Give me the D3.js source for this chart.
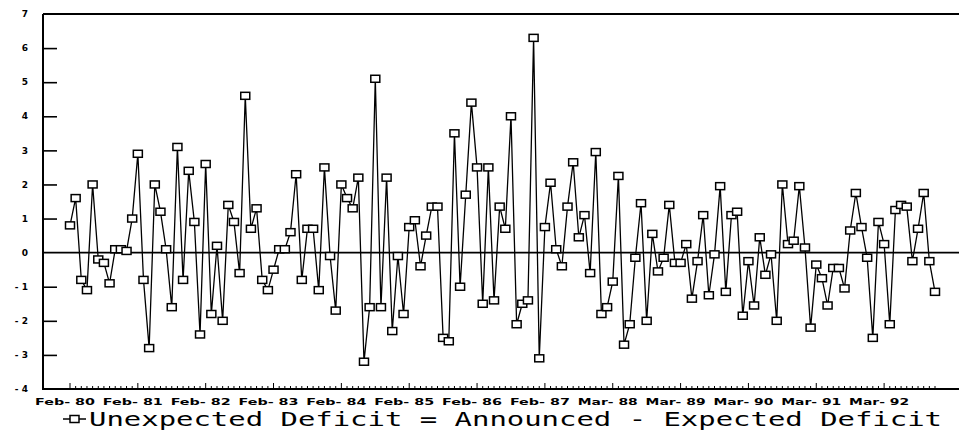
<!DOCTYPE html>
<html>
<head>
<meta charset="utf-8">
<script src="https://cdn.jsdelivr.net/npm/d3@7"></script>
<style>
  body { margin: 0; background: #fff; }
  svg { display: block; }
  text { font-family: "DejaVu Sans", sans-serif; fill: #000; }
</style>
</head>
<body>
<svg id="chart" width="959" height="435"></svg>
<script>
// monthly values, Feb-80 onwards
var values = [
  0.8, 1.6, -0.8, -1.1, 2.0, -0.2, -0.3, -0.9, 0.1, 0.1,
  0.05, 1.0, 2.9, -0.8, -2.8, 2.0, 1.2, 0.1, -1.6, 3.1,
  -0.8, 2.4, 0.9, -2.4, 2.6, -1.8, 0.2, -2.0, 1.4, 0.9,
  -0.6, 4.6, 0.7, 1.3, -0.8, -1.1, -0.5, 0.1, 0.1, 0.6,
  2.3, -0.8, 0.7, 0.7, -1.1, 2.5, -0.1, -1.7, 2.0, 1.6,
  1.3, 2.2, -3.2, -1.6, 5.1, -1.6, 2.2, -2.3, -0.1, -1.8,
  0.75, 0.95, -0.4, 0.5, 1.35, 1.35, -2.5, -2.6, 3.5, -1.0,
  1.7, 4.4, 2.5, -1.5, 2.5, -1.4, 1.35, 0.7, 4.0, -2.1,
  -1.5, -1.4, 6.3, -3.1, 0.75, 2.05, 0.1, -0.4, 1.35, 2.65,
  0.45, 1.1, -0.6, 2.95, -1.8, -1.6, -0.85, 2.25, -2.7, -2.1,
  -0.15, 1.45, -2.0, 0.55, -0.55, -0.15, 1.4, -0.3, -0.3, 0.25,
  -1.35, -0.25, 1.1, -1.25, -0.05, 1.95, -1.15, 1.1, 1.2, -1.85,
  -0.25, -1.55, 0.45, -0.65, -0.05, -2.0, 2.0, 0.25, 0.35, 1.95,
  0.15, -2.2, -0.35, -0.75, -1.55, -0.45, -0.45, -1.05, 0.65, 1.75,
  0.75, -0.15, -2.5, 0.9, 0.25, -2.1, 1.25, 1.4, 1.35, -0.25,
  0.7, 1.75, -0.25, -1.15
];

// one label every 12 observations
var xLabels = ["Feb- 80", "Feb- 81", "Feb- 82", "Feb- 83", "Feb- 84", "Feb- 85", "Feb- 86",
               "Feb- 87", "Mar- 88", "Mar- 89", "Mar- 90", "Mar- 91", "Mar- 92"];
var yTicks = [-4, -3, -2, -1, 0, 1, 2, 3, 4, 5, 6, 7];

var legendText = "Unexpected Deficit = Announced - Expected Deficit";

var svg = d3.select("#chart");

var plotLeft = 43, plotTop = 14, plotBottom = 389, plotRight = 962;

var x = d3.scaleLinear()
  .domain([0, values.length - 1])
  .range([70, 935]);

var y = d3.scaleLinear()
  .domain([-4, 7])
  .range([plotBottom, plotTop]);

// frame: left axis, top line, bottom axis
svg.append("line")
  .attr("x1", plotLeft).attr("x2", plotLeft)
  .attr("y1", plotTop).attr("y2", plotBottom)
  .attr("stroke", "#000").attr("stroke-width", 2);

svg.append("line")
  .attr("x1", plotLeft).attr("x2", plotRight)
  .attr("y1", plotTop).attr("y2", plotTop)
  .attr("stroke", "#000").attr("stroke-width", 2);

svg.append("line")
  .attr("x1", plotLeft - 1).attr("x2", plotRight)
  .attr("y1", plotBottom).attr("y2", plotBottom)
  .attr("stroke", "#000").attr("stroke-width", 2);

// zero line across the plot
svg.append("line")
  .attr("x1", plotLeft).attr("x2", plotRight)
  .attr("y1", y(0)).attr("y2", y(0))
  .attr("stroke", "#000").attr("stroke-width", 1.6);

// y axis ticks and labels
var yAxis = d3.axisRight(y)
  .tickValues(yTicks.filter(function(d) { return d > -4 && d < 7 && d !== 0; }))
  .tickSize(14)
  .tickFormat("");

svg.append("g")
  .attr("transform", "translate(" + plotLeft + ",0)")
  .call(yAxis)
  .call(function(g) {
    g.select(".domain").remove();
    g.selectAll(".tick line").attr("stroke", "#000").attr("stroke-width", 1.6);
  });

svg.append("g")
  .selectAll("text")
  .data(yTicks)
  .enter().append("text")
  .attr("x", 28)
  .attr("y", function(d) { return y(d); })
  .attr("dy", "0.35em")
  .attr("text-anchor", "end")
  .style("font-size", "9px")
  .style("font-weight", "bold")
  .text(function(d) { return d < 0 ? "- " + Math.abs(d) : d; });

// x ticks: minor every month, major every 12
var idx = d3.range(values.length);
svg.append("g")
  .selectAll("line")
  .data(idx)
  .enter().append("line")
  .attr("x1", function(d) { return x(d); })
  .attr("x2", function(d) { return x(d); })
  .attr("y1", plotBottom)
  .attr("y2", function(d) { return d % 12 === 0 ? plotBottom - 6 : plotBottom - 3; })
  .attr("stroke", "#000")
  .attr("stroke-width", 1);

svg.append("g")
  .selectAll("text")
  .data(xLabels)
  .enter().append("text")
  .attr("x", function(d, i) { return x(i * 12) - 5; })
  .attr("y", 402)
  .attr("dy", "0.35em")
  .attr("text-anchor", "middle")
  .attr("textLength", 60)
  .attr("lengthAdjust", "spacingAndGlyphs")
  .style("font-size", "9px")
  .style("font-weight", "bold")
  .text(function(d) { return d; });

// series line
var line = d3.line()
  .x(function(d, i) { return x(i); })
  .y(function(d) { return y(d); });

svg.append("path")
  .datum(values)
  .attr("d", line)
  .attr("fill", "none")
  .attr("stroke", "#000")
  .attr("stroke-width", 1.3);

// square markers
svg.append("g")
  .selectAll("rect")
  .data(values)
  .enter().append("rect")
  .attr("x", function(d, i) { return x(i) - 4.5; })
  .attr("y", function(d) { return y(d) - 3.5; })
  .attr("width", 9)
  .attr("height", 7)
  .attr("fill", "#fff")
  .attr("stroke", "#000")
  .attr("stroke-width", 1.5);

// legend
var lg = svg.append("g").attr("transform", "translate(0,419)");
lg.append("line")
  .attr("x1", 63).attr("x2", 86)
  .attr("y1", 0).attr("y2", 0)
  .attr("stroke", "#000").attr("stroke-width", 1.5);
lg.append("rect")
  .attr("x", 70).attr("y", -3.5)
  .attr("width", 9).attr("height", 7)
  .attr("fill", "#fff").attr("stroke", "#000").attr("stroke-width", 1.5);
lg.append("text")
  .attr("x", 89)
  .attr("y", 0)
  .attr("dy", "0.35em")
  .attr("textLength", 853)
  .attr("lengthAdjust", "spacingAndGlyphs")
  .style("font-family", "'DejaVu Sans Mono', monospace")
  .style("font-size", "19px")
  .text(legendText);
</script>
</body>
</html>
